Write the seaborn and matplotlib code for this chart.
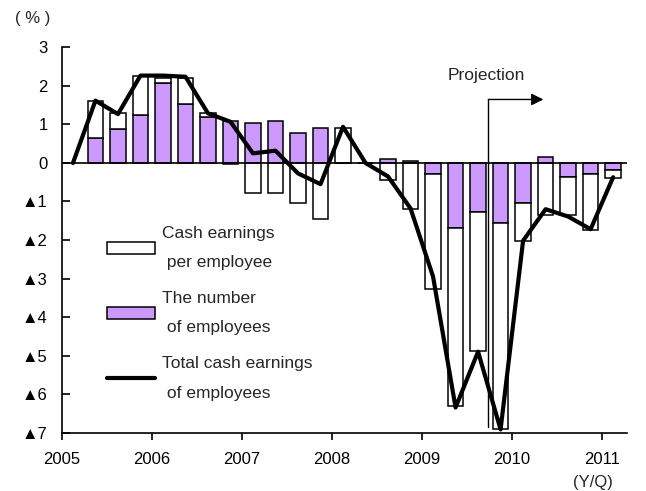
import numpy as np
import pandas as pd
import matplotlib.pyplot as plt
import seaborn as sns
from matplotlib.patches import Patch
from matplotlib.lines import Line2D

# --- datos (variación interanual, %) ---
quarters = ["2005Q1", "2005Q2", "2005Q3", "2005Q4",
            "2006Q1", "2006Q2", "2006Q3", "2006Q4",
            "2007Q1", "2007Q2", "2007Q3", "2007Q4",
            "2008Q1", "2008Q2", "2008Q3", "2008Q4",
            "2009Q1", "2009Q2", "2009Q3", "2009Q4",
            "2010Q1", "2010Q2", "2010Q3", "2010Q4",
            "2011Q1"]
employees = [np.nan, 0.66, 0.88, 1.25,
             2.07, 1.52, 1.19, 1.09,
             1.03, 1.09, 0.77, 0.90,
             0.00, 0.00, 0.10, 0.05,
             -0.29, -1.70, -1.28, -1.57,
             -1.05, 0.16, -0.37, -0.29,
             -0.19]
per_employee = [np.nan, 0.96, 0.41, 1.02,
                0.13, 0.68, 0.12, -0.03,
                -0.77, -0.77, -1.05, -1.45,
                0.92, 0.00, -0.44, -1.20,
                -2.99, -4.61, -3.59, -5.34,
                -0.97, -1.35, -0.98, -1.45,
                -0.21]
total = [0.00, 1.62, 1.27, 2.27,
         2.27, 2.24, 1.29, 1.07,
         0.25, 0.32, -0.27, -0.55,
         0.94, 0.00, -0.35, -1.18,
         -2.95, -6.35, -4.90, -6.92,
         -2.02, -1.20, -1.39, -1.72,
         -0.37]
year_labels = ["2005", "2006", "2007", "2008", "2009", "2010", "2011"]
ytick_labels = ["3", "2", "1", "0", "▲1", "▲2", "▲3", "▲4", "▲5", "▲6", "▲7"]
legend_labels = ["Cash earnings\n per employee",
                 "The number\n of employees",
                 "Total cash earnings\n of employees"]

sns.set_style("ticks")
plt.rcParams['font.family'] = ['Liberation Sans', 'DejaVu Sans']

fig = plt.figure(figsize=(6.46, 4.91), dpi=100)
ax = fig.add_axes([0.0955, 0.1191, 0.8745, 0.7842])

purple = "#CC99FF"
x = np.arange(len(quarters))
n = np.array(employees)
p = np.array(per_employee)
# barras apiladas: si tienen el mismo signo, "per employee" va encima
bottom_p = np.where(np.sign(n) == np.sign(p), n, 0)
ax.bar(x, n, width=0.68, color=purple, edgecolor="black", linewidth=1.1, zorder=2)
ax.bar(x, p, bottom=bottom_p, width=0.68, color="white", edgecolor="black", linewidth=1.1, zorder=2)
ax.axhline(0, color="black", lw=1.2, zorder=3)

df = pd.DataFrame({"x": x, "total": total})
sns.lineplot(data=df, x="x", y="total", color="black", lw=3, ax=ax, zorder=4)

# proyección
px = 18.46
ax.plot([px, px], [-6.85, 1.65], color="black", lw=1, zorder=5)
ax.annotate("", xy=(20.9, 1.65), xytext=(px, 1.65),
            arrowprops=dict(arrowstyle="-|>", color="black", lw=1,
                            mutation_scale=18, shrinkA=0, shrinkB=0))
ax.text(18.36, 2.27, "Projection", ha="center", va="center", fontsize=12.5)

ax.set_xlim(-0.5, 24.6)
ax.set_ylim(-7, 3)
ax.set_xticks(np.arange(len(year_labels)) * 4 - 0.5)
ax.set_xticklabels(year_labels, fontsize=12)
ax.set_yticks(np.arange(3, -8, -1))
ax.set_yticklabels(ytick_labels, fontsize=12)
ax.set_xlabel("")
ax.set_ylabel("")
sns.despine(ax=ax)
for s in ["left", "bottom"]:
    ax.spines[s].set_linewidth(1.2)
    ax.spines[s].set_color("black")
ax.tick_params(axis="y", direction="in", length=6, width=1.2, pad=10, colors="black")
ax.tick_params(axis="x", direction="out", length=5, width=1.2, pad=9, colors="black")

handles = [Patch(facecolor="white", edgecolor="black", linewidth=1.1),
           Patch(facecolor=purple, edgecolor="black", linewidth=1.1),
           Line2D([], [], color="black", lw=3)]
leg = ax.legend(handles, legend_labels, loc="upper left", bbox_to_anchor=(0.08, 0.537),
                frameon=False, fontsize=12.5, handlelength=2.8, handleheight=0.7,
                handletextpad=0.4, labelspacing=1.2, borderpad=0, borderaxespad=0)
for t in leg.get_texts():
    t.set_linespacing(2.2)

fig.text(33 / 646, 1 - 19 / 491, "( % )", ha="center", va="center", fontsize=12)
fig.text(593 / 646, 1 - 482 / 491, "(Y/Q)", ha="center", va="center", fontsize=12)

plt.savefig("out.png", dpi=100)
